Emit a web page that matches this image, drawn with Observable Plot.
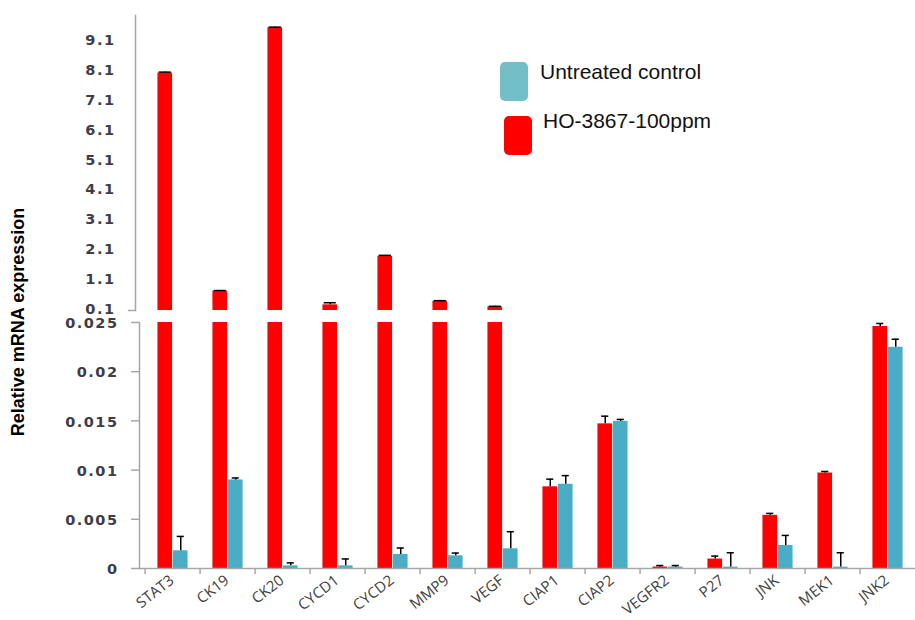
<!DOCTYPE html>
<html>
<head>
<meta charset="utf-8">
<script src="https://cdn.jsdelivr.net/npm/d3@7"></script>
<script src="https://cdn.jsdelivr.net/npm/@observablehq/plot@0.6"></script>
<style>
  html, body { margin: 0; padding: 0; background: #fff; overflow: hidden; }
  #wrap { position: relative; width: 915px; height: 620px; overflow: hidden; background: #fff; }
  #top, #bottom { position: absolute; left: 0; }
  #top { top: 0; }
  #bottom { top: 315px; }
  #ylabel { position: absolute; left: 18px; top: 322px; transform: translate(-50%, -50%) rotate(-90deg);
    white-space: nowrap; font: bold 18px "Liberation Sans", Arial, sans-serif; color: #000; }
  .sw { position: absolute; border-radius: 5px; }
  .lt { position: absolute; font: 21px "Liberation Sans", Arial, sans-serif; color: #111; white-space: nowrap; }
  .ytl text { letter-spacing: 1.5px; }
</style>
</head>
<body>
<div id="wrap">
  <div id="top"></div>
  <div id="bottom"></div>
  <div id="ylabel">Relative mRNA expression</div>
  <div id="legend"></div>
</div>
<script>
// ---- data ----
const genes = ["STAT3","CK19","CK20","CYCD1","CYCD2","MMP9","VEGF","CIAP1","CIAP2","VEGFR2","P27","JNK","MEK1","JNK2"];
const seriesNames = ["Untreated control", "HO-3867-100ppm"];
const seriesColors = ["#4BACC6", "#FF0000"];
const legendColors = ["#72BEC6", "#FF0000"];
const hoValues   = [8.07, 0.75, 9.59, 0.29, 1.92, 0.41, 0.22, 0.0083, 0.0147, 0.00015, 0.00096, 0.0054, 0.0097, 0.0246];
const hoErrors   = [0.03, 0.02, 0.02, 0.07, 0.03, 0.02, 0.02, 0.00078, 0.00078, 0.00015, 0.0003, 0.0002, 0.00016, 0.0003];
const ctrlValues = [0.0018, 0.0090, 0.00027, 0.00027, 0.00143, 0.00129, 0.0020, 0.00856, 0.01495, 0.00015, 0.00014, 0.00234, 0.00014, 0.02248];
const ctrlErrors = [0.00146, 0.0002, 0.0003, 0.0007, 0.00065, 0.00028, 0.00174, 0.00088, 0.0002, 0.00015, 0.00146, 0.00102, 0.00146, 0.00082];
const upperTicks = [0.1, 1.1, 2.1, 3.1, 4.1, 5.1, 6.1, 7.1, 8.1, 9.1];
const lowerTicks = [0, 0.005, 0.01, 0.015, 0.02, 0.025];

// ---- rows ----
const ho = genes.map((g, i) => ({gene: g, value: hoValues[i], err: hoErrors[i]}));
const ctrl = genes.map((g, i) => ({gene: g, value: ctrlValues[i], err: ctrlErrors[i]}));

// ---- layout ----
const W = 915;
const xRange = [139, 921];
const bw = (xRange[1] - xRange[0]) / genes.length;
const barW = 15.5;
const half = bw / 2;
const axisGray = "#a6a6a6";
const tickFont = {fontFamily: "DejaVu Sans, Verdana, sans-serif", fontSize: 14.5, fontWeight: "bold", fill: "#3d3d4a", className: "ytl"};

function errMarks(data, side, capW, clip) {
  const off = side * barW / 2;
  return [
    Plot.ruleX(data, {x: "gene", y1: "value", y2: d => d.value + d.err, dx: off, stroke: "#000", strokeWidth: 1.5, clip}),
    Plot.tickY(data, {x: "gene", y: d => d.value + d.err, dx: off, insetLeft: half - capW / 2, insetRight: half - capW / 2, stroke: "#000", strokeWidth: 1.5, clip})
  ];
}

// ---- upper panel ----
const hoUpper = ho.filter(d => d.value > 0.1);
const upper = Plot.plot({
  width: W, height: 315,
  marginTop: 15, marginBottom: 5, marginLeft: 139, marginRight: 0,
  x: {type: "band", domain: genes, range: xRange, padding: 0, axis: null},
  y: {domain: [0.1, 10], axis: null},
  style: {background: "transparent", overflow: "visible"},
  marks: [
    Plot.frame({anchor: "left", dx: -4, stroke: axisGray, strokeWidth: 1.5}),
    Plot.axisY({ticks: [0.1], tickSize: 7, dx: -4, tickFormat: () => "", stroke: axisGray, strokeWidth: 1.5, label: null}),
    Plot.axisY({ticks: upperTicks, tickSize: 0, tickPadding: 24, dy: -1.5, tickFormat: d => d.toFixed(1), label: null, ...tickFont}),
    Plot.barY(hoUpper, {x: "gene", y1: 0.1, y2: "value", fill: seriesColors[1], insetLeft: half - barW, insetRight: half}),
    ...errMarks(hoUpper, -1, 13, false)
  ]
});
document.getElementById("top").append(upper);

// ---- lower panel ----
const lower = Plot.plot({
  width: W, height: 305,
  marginTop: 7, marginBottom: 52, marginLeft: 139, marginRight: 0,
  x: {type: "band", domain: genes, range: xRange, padding: 0},
  y: {domain: [0, 0.025]},
  style: {background: "transparent", overflow: "visible"},
  marks: [
    Plot.frame({anchor: "left", stroke: axisGray, strokeWidth: 1.5}),
    Plot.axisY({ticks: lowerTicks, tickSize: 8, tickFormat: () => "", stroke: axisGray, strokeWidth: 1.5, label: null}),
    Plot.axisY({ticks: lowerTicks, tickSize: 0, tickPadding: 21, dy: 1, tickFormat: d => String(d), label: null, ...tickFont}),
    Plot.barY(ho, {x: "gene", y: "value", fill: seriesColors[1], insetLeft: half - barW, insetRight: half, clip: true}),
    Plot.barY(ctrl, {x: "gene", y: "value", fill: seriesColors[0], insetLeft: half, insetRight: half - barW, clip: true}),
    ...errMarks(ho, -1, 8, true),
    ...errMarks(ctrl, 1, 8, true),
    Plot.ruleY([0], {stroke: axisGray, strokeWidth: 1.5}),
    Plot.axisX({tickSize: 6, dx: -half, tickFormat: () => "", stroke: axisGray, strokeWidth: 1.5, label: null}),
    Plot.axisX({tickSize: 0, tickPadding: 10, tickRotate: -38, dx: -1, label: null,
      fontFamily: "Open Sans, sans-serif", fontSize: 15, fill: "#404040"})
  ]
});
document.getElementById("bottom").append(lower);

// ---- legend ----
const legend = document.getElementById("legend");
const legendPos = [
  {sx: 500, sy: 62, tx: 540, ty: 60},
  {sx: 504, sy: 116, tx: 543, ty: 109}
];
seriesNames.forEach((name, i) => {
  const p = legendPos[i];
  const sw = document.createElement("div");
  sw.className = "sw";
  Object.assign(sw.style, {left: p.sx + "px", top: p.sy + "px", width: "28px", height: "39px", background: legendColors[i]});
  const t = document.createElement("div");
  t.className = "lt";
  t.textContent = name;
  Object.assign(t.style, {left: p.tx + "px", top: p.ty + "px"});
  legend.append(sw, t);
});
</script>
</body>
</html>
